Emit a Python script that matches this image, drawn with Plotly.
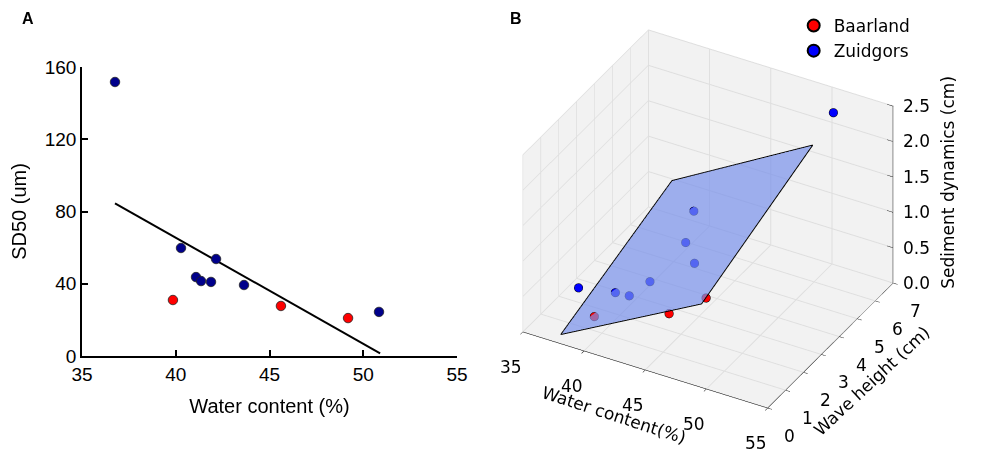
import math
import plotly.graph_objects as go

# ---------------- data ----------------
# Zuidgors (blue)
zuid_water = [36.76, 40.28, 41.08, 41.35, 41.88, 42.15, 43.64, 50.84]
zuid_sd50 = [151.7, 59.8, 43.7, 41.5, 41.0, 53.7, 39.3, 24.4]
zuid_wave = [1.9, 1.55, 1.78, 2.75, 4.38, 4.65, 3.67, 6.5]
zuid_sed = [0.24, 0.45, 0.39, 0.36, 0.53, 0.92, 0.51, 2.31]
# Baarland (red)
baar_water = [39.85, 45.61, 49.19]
baar_sd50 = [31.0, 27.7, 21.0]
baar_wave = [0.67, 0.91, 0.53]
baar_sed = [0.31, 0.60, 1.11]
# regression line (panel A)
fit_water = [36.76, 50.9]
fit_sd50 = [84.5, 1.5]
# regression plane (panel B)
plane_water = [38.1, 49.6]
plane_wave = [0.0, 6.2]
plane_sed = [[0.13, 1.18], [0.74, 1.86]]

x_ticks_a = [35, 40, 45, 50, 55]
y_ticks_a = [0, 40, 80, 120, 160]
x_ticks_b = [35, 40, 45, 50, 55]
y_ticks_b = [0, 1, 2, 3, 4, 5, 6, 7]
z_ticks_b = [0.0, 0.5, 1.0, 1.5, 2.0, 2.5]

OFF = 8                      # default page body margin
W, H = 984 - OFF, 456 - OFF
fa = "Liberation Sans, Arial, sans-serif"
fb = "DejaVu Sans, sans-serif"


def px_x(p):  # page pixel -> paper fraction
    return (p - OFF) / W


def px_y(p):
    return 1 - (p - OFF) / H


fig = go.Figure()

# ---------- panel A ----------
fig.add_trace(go.Scatter(x=fit_water, y=fit_sd50, mode="lines",
                         line=dict(color="black", width=2), showlegend=False,
                         xaxis="x", yaxis="y"))
fig.add_trace(go.Scatter(x=zuid_water, y=zuid_sd50, mode="markers",
                         marker=dict(color="#00008B", size=9.5,
                                     line=dict(color="#222", width=0.8)),
                         showlegend=False, xaxis="x", yaxis="y"))
fig.add_trace(go.Scatter(x=baar_water, y=baar_sd50, mode="markers",
                         marker=dict(color="#FF0000", size=9.5,
                                     line=dict(color="#222", width=0.8)),
                         showlegend=False, xaxis="x", yaxis="y"))

# ---------- panel B ----------
fig.add_trace(go.Surface(x=plane_water, y=plane_wave, z=plane_sed,
                         colorscale=[[0, "rgb(120,145,235)"], [1, "rgb(120,145,235)"]],
                         showscale=False, opacity=0.7, hoverinfo="skip",
                         lighting=dict(ambient=1, diffuse=0, specular=0, fresnel=0),
                         scene="scene", showlegend=False))
edge_x = [plane_water[0], plane_water[1], plane_water[1], plane_water[0], plane_water[0]]
edge_y = [plane_wave[0], plane_wave[0], plane_wave[1], plane_wave[1], plane_wave[0]]
edge_z = [plane_sed[0][0], plane_sed[0][1], plane_sed[1][1], plane_sed[1][0], plane_sed[0][0]]
fig.add_trace(go.Scatter3d(x=edge_x, y=edge_y, z=edge_z, mode="lines",
                           line=dict(color="black", width=2), showlegend=False,
                           hoverinfo="skip", scene="scene"))
fig.add_trace(go.Scatter3d(x=baar_water, y=baar_wave, z=baar_sed, mode="markers",
                           name="Baarland",
                           marker=dict(color="#FF0000", size=5,
                                       line=dict(color="black", width=1)),
                           scene="scene"))
fig.add_trace(go.Scatter3d(x=zuid_water, y=zuid_wave, z=zuid_sed, mode="markers",
                           name="Zuidgors",
                           marker=dict(color="#0000FF", size=5,
                                       line=dict(color="black", width=1)),
                           scene="scene"))

# z axis drawn on the right back edge (as in the reference)
x_lo, x_hi = x_ticks_b[0], x_ticks_b[-1]
y_lo, y_hi = y_ticks_b[0], y_ticks_b[-1]
z_lo, z_hi = z_ticks_b[0], z_ticks_b[-1]
z_edge_x = [x_hi, x_hi, None]
z_edge_y = [y_hi, y_hi, None]
z_edge_z = [z_lo, z_hi, None]
for t in z_ticks_b:
    z_edge_x += [x_hi - 0.5, x_hi, None]
    z_edge_y += [y_hi, y_hi, None]
    z_edge_z += [t, t, None]
fig.add_trace(go.Scatter3d(x=z_edge_x, y=z_edge_y, z=z_edge_z, mode="lines",
                           line=dict(color="black", width=1.5), showlegend=False,
                           hoverinfo="skip", scene="scene"))

ax3 = dict(showbackground=True, backgroundcolor="rgb(242,242,242)",
           gridcolor="rgb(222,222,222)", showline=True, linecolor="black",
           ticks="outside", tickcolor="black", zeroline=False,
           showticklabels=False, title=dict(text=""),
           showspikes=False)

tf = dict(family=fb, size=17, color="black")
s_ann = []
for t in x_ticks_b:
    s_ann.append(dict(x=t, y=y_lo, z=z_lo, text=str(t), showarrow=False,
                      xanchor="center", yanchor="middle", xshift=-12, yshift=-35, font=tf))
for t in y_ticks_b:
    s_ann.append(dict(x=x_hi, y=t, z=z_lo, text=str(t), showarrow=False,
                      xanchor="center", yanchor="middle", xshift=22, yshift=-28, font=tf))
for t in z_ticks_b:
    s_ann.append(dict(x=x_hi, y=y_hi, z=t, text=f"{t:.1f}", showarrow=False,
                      xanchor="left", yanchor="middle", xshift=8, font=tf))
s_ann.append(dict(x=(x_lo + x_hi) / 2, y=y_lo, z=z_lo, text="Water content(%)",
                  showarrow=False, textangle=18, xanchor="center", yanchor="middle",
                  xshift=-31, yshift=-45, font=tf))
s_ann.append(dict(x=x_hi, y=(y_lo + y_hi) / 2, z=z_lo, text="Wave height (cm)",
                  showarrow=False, textangle=-43, xanchor="center", yanchor="middle",
                  xshift=41, yshift=-35, font=tf))
s_ann.append(dict(x=x_hi, y=y_hi, z=(z_lo + z_hi) / 2, text="Sediment dynamics (cm)",
                  showarrow=False, textangle=-90, xanchor="center", yanchor="middle",
                  xshift=54, yshift=12, font=tf))

el, az = 33.8, -60.8
r = 1.1
cz = -0.07
eye = dict(x=r * math.cos(math.radians(el)) * math.cos(math.radians(az)),
           y=r * math.cos(math.radians(el)) * math.sin(math.radians(az)),
           z=r * math.sin(math.radians(el)) + cz)

cx = 708.0  # page pixel of the box centre
fig.update_layout(
    width=W, height=H,
    margin=dict(l=0, r=0, t=0, b=0),
    paper_bgcolor="white", plot_bgcolor="white",
    font=dict(family=fa, color="black"),
    xaxis=dict(domain=[px_x(82), px_x(457)], range=[35, 55], tickvals=x_ticks_a,
               showline=True, linecolor="black", linewidth=1.5, ticks="inside",
               ticklen=6, tickwidth=1.5, tickcolor="black", showgrid=False,
               zeroline=False, mirror=False, automargin=False,
               tickfont=dict(family=fa, size=19),
               title=dict(text="Water content (%)", font=dict(family=fa, size=20)),
               anchor="y"),
    yaxis=dict(domain=[px_y(356), px_y(67)], range=[0, 160], tickvals=y_ticks_a,
               showline=True, linecolor="black", linewidth=1.5, ticks="inside",
               ticklen=6, tickwidth=1.5, tickcolor="black", showgrid=False,
               zeroline=False, mirror=False, automargin=False,
               tickfont=dict(family=fa, size=19),
               title=dict(text="SD50 (um)", font=dict(family=fa, size=20)),
               anchor="x"),
    scene=dict(
        domain=dict(x=[px_x(cx - 262), px_x(cx + 262)], y=[0.0, 1.0]),
        xaxis=dict(ax3, range=[x_lo, x_hi], tickvals=x_ticks_b),
        yaxis=dict(ax3, range=[y_lo, y_hi], tickvals=y_ticks_b),
        zaxis=dict(ax3, ticks="", showline=False, range=[z_lo, z_hi], tickvals=z_ticks_b),
        aspectmode="manual", aspectratio=dict(x=1.252, y=1.149, z=0.951),
        camera=dict(eye=eye, up=dict(x=0, y=0, z=1),
                    center=dict(x=0, y=0, z=cz),
                    projection=dict(type="orthographic")),
        bgcolor="rgba(0,0,0,0)",
        annotations=s_ann,
    ),
    legend=dict(x=0.805, y=1.0, xanchor="left", yanchor="top",
                font=dict(family=fb, size=17), bgcolor="rgba(0,0,0,0)",
                itemsizing="constant"),
    annotations=[
        dict(text="<b>A</b>", x=px_x(28), y=px_y(18), xref="paper", yref="paper",
             showarrow=False, font=dict(family=fa, size=16), xanchor="center", yanchor="middle"),
        dict(text="<b>B</b>", x=px_x(516), y=px_y(18), xref="paper", yref="paper",
             showarrow=False, font=dict(family=fa, size=16), xanchor="center", yanchor="middle"),
    ],
)

fig.write_html("out.html")
